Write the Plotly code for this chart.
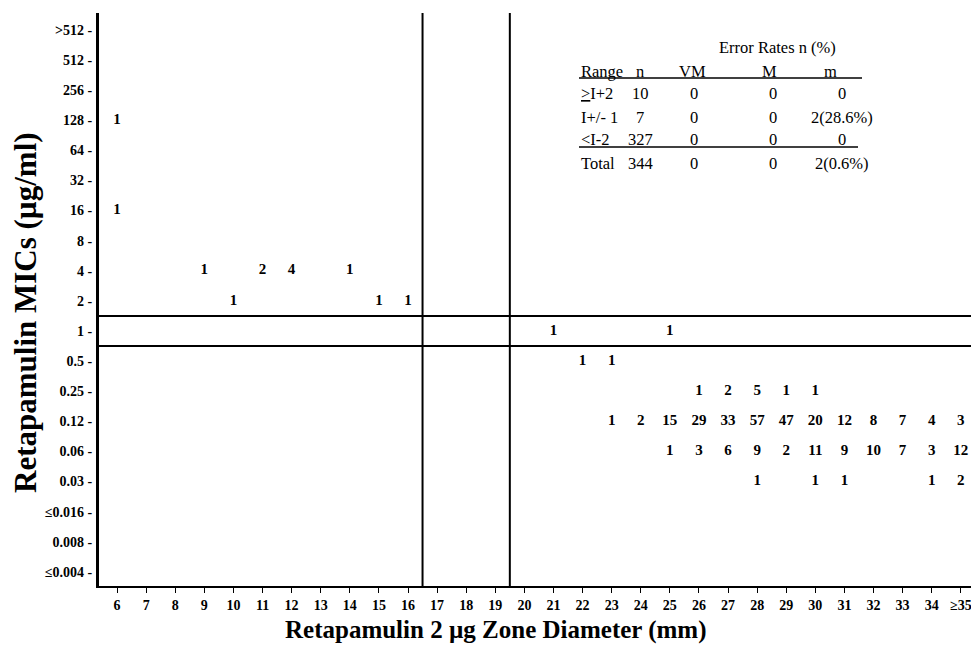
import plotly.graph_objects as go

# ---------------- data ----------------
mic_labels = ["≤0.004", "0.008", "≤0.016", "0.03", "0.06", "0.12", "0.25", "0.5",
              "1", "2", "4", "8", "16", "32", "64", "128", "256", "512", ">512"]
zone_values = list(range(6, 36))
zone_labels = [str(z) for z in range(6, 35)] + ["≥35"]

mic_128_zones = [6];            mic_128_counts = [1]
mic_16_zones = [6];             mic_16_counts = [1]
mic_4_zones = [9, 11, 12, 14];  mic_4_counts = [1, 2, 4, 1]
mic_2_zones = [10, 15, 16];     mic_2_counts = [1, 1, 1]
mic_1_zones = [21, 25];         mic_1_counts = [1, 1]
mic_05_zones = [22, 23];        mic_05_counts = [1, 1]
mic_025_zones = [26, 27, 28, 29, 30]
mic_025_counts = [1, 2, 5, 1, 1]
mic_012_zones = [23, 24, 25, 26, 27, 28, 29, 30, 31, 32, 33, 34, 35]
mic_012_counts = [1, 2, 15, 29, 33, 57, 47, 20, 12, 8, 7, 4, 3]
mic_006_zones = [25, 26, 27, 28, 29, 30, 31, 32, 33, 34, 35]
mic_006_counts = [1, 3, 6, 9, 2, 11, 9, 10, 7, 3, 12]
mic_003_zones = [28, 30, 31, 34, 35]
mic_003_counts = [1, 1, 1, 1, 2]

zone_breakpoints = [16.5, 19.5]
mic_breakpoints = [7.5, 8.5]   # between 0.5/1 and 1/2 on the category index scale

table_title = "Error Rates n (%)"
table_columns = ["Range", "n", "VM", "M", "m"]
table_ranges = ["<u>></u>I+2", "I+/- 1", "&lt;I-2", "Total"]
table_n = ["10", "7", "327", "344"]
table_vm = ["0", "0", "0", "0"]
table_M = ["0", "0", "0", "0"]
table_m = ["0", "2(28.6%)", "0", "2(0.6%)"]

# ---------------- figure ----------------
W, H = 971, 647
L, R, T, B = 99, 0, 13, 61
PW, PH = W - L - R, H - T - B

def px(x):
    return (x - L) / PW

def py(y):
    return (H - B - y) / PH

SERIF = "Liberation Serif, Times New Roman, serif"

fig = go.Figure()

rows = [
    ("128", mic_128_zones, mic_128_counts),
    ("16", mic_16_zones, mic_16_counts),
    ("4", mic_4_zones, mic_4_counts),
    ("2", mic_2_zones, mic_2_counts),
    ("1", mic_1_zones, mic_1_counts),
    ("0.5", mic_05_zones, mic_05_counts),
    ("0.25", mic_025_zones, mic_025_counts),
    ("0.12", mic_012_zones, mic_012_counts),
    ("0.06", mic_006_zones, mic_006_counts),
    ("0.03", mic_003_zones, mic_003_counts),
]
for mic, zones, counts in rows:
    yi = mic_labels.index(mic)
    fig.add_trace(go.Scatter(
        x=zones, y=[yi] * len(zones), mode="text",
        text=[str(c) for c in counts],
        textposition="middle center",
        textfont=dict(family=SERIF, size=15, color="black", weight="bold"),
        showlegend=False, hoverinfo="skip",
    ))

for xb in zone_breakpoints:
    fig.add_shape(type="line", xref="x", yref="paper", x0=xb, x1=xb, y0=0, y1=1,
                  line=dict(color="black", width=2))
for yb in mic_breakpoints:
    fig.add_shape(type="line", xref="paper", yref="y", x0=0, x1=1, y0=yb, y1=yb,
                  line=dict(color="black", width=2))

fig.update_xaxes(
    range=[5.38, 35.35], tickmode="array", tickvals=zone_values, ticktext=zone_labels,
    showline=True, linecolor="black", linewidth=2, mirror=False,
    ticks="outside", ticklen=5, tickwidth=1, tickcolor="black",
    showgrid=False, zeroline=False, ticklabeloverflow="allow",
    tickfont=dict(family=SERIF, size=14, color="black", weight="bold"),
)
fig.update_yaxes(
    range=[-0.47, 18.56], tickmode="array", tickvals=list(range(len(mic_labels))),
    ticktext=[m + " -" for m in mic_labels],
    showline=True, linecolor="black", linewidth=3,
    ticks="", ticklabelstandoff=1,
    showgrid=False, zeroline=False,
    tickfont=dict(family=SERIF, size=14, color="black", weight="bold"),
)

annotations = [
    dict(text="Retapamulin MICs (µg/ml)", textangle=-90, x=px(25), y=py(313),
         xref="paper", yref="paper", showarrow=False, xanchor="center", yanchor="middle",
         font=dict(family=SERIF, size=31, color="black", weight="bold")),
    dict(text="Retapamulin 2 µg Zone Diameter (mm)", x=px(496), y=py(630),
         xref="paper", yref="paper", showarrow=False, xanchor="center", yanchor="middle",
         font=dict(family=SERIF, size=25, color="black", weight="bold")),
]

tfont = dict(family=SERIF, size=16.5, color="black")
annotations.append(dict(text=table_title, x=px(777), y=py(48), xref="paper", yref="paper",
                        showarrow=False, xanchor="center", yanchor="middle", font=tfont))
header_x = [579, 640, 692, 769, 830]
for i, h in enumerate(table_columns):
    annotations.append(dict(text=h, x=px(header_x[i]), y=py(71), xref="paper", yref="paper",
                            showarrow=False, xanchor="left" if i == 0 else "center",
                            yanchor="middle", font=tfont))
row_y = [94, 117, 139, 163]
col_x = [579, 640, 694, 773, 842]
for r in range(len(table_ranges)):
    cells = [table_ranges[r], table_n[r], table_vm[r], table_M[r], table_m[r]]
    for c, txt in enumerate(cells):
        annotations.append(dict(text=txt, x=px(col_x[c]), y=py(row_y[r]),
                                xref="paper", yref="paper", showarrow=False,
                                xanchor="left" if c == 0 else "center", yanchor="middle",
                                font=tfont))
fig.add_shape(type="line", xref="paper", yref="paper", x0=px(579), x1=px(862),
              y0=py(78), y1=py(78), line=dict(color="black", width=1.5))
fig.add_shape(type="line", xref="paper", yref="paper", x0=px(579), x1=px(858),
              y0=py(147), y1=py(147), line=dict(color="black", width=1.5))

fig.update_layout(
    width=W, height=H, margin=dict(l=L, r=R, t=T, b=B),
    plot_bgcolor="white", paper_bgcolor="white",
    annotations=annotations, showlegend=False,
)

fig.write_html(
    "out.html",
    config={"displayModeBar": False},
    post_script="document.body.style.margin='0px';document.body.style.overflow='hidden';",
)
